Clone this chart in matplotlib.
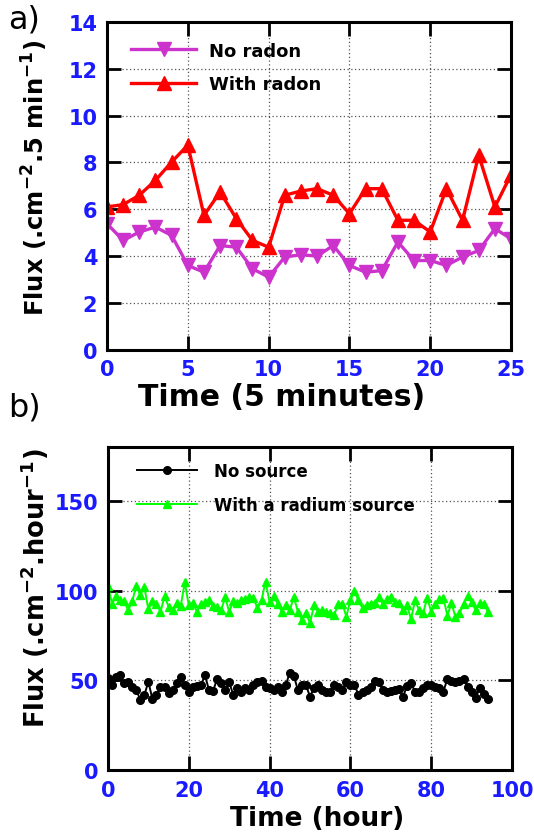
import matplotlib
matplotlib.use('Agg')
import matplotlib.pyplot as plt
import numpy as np

# panel a) flux every 5 minutes
time_a = list(range(26))
no_radon = [5.38, 4.67, 5.03, 5.24, 4.88, 3.6, 3.31, 4.45, 4.38, 3.46, 3.1, 3.96, 4.06,
            4.0, 4.45, 3.6, 3.31, 3.38, 4.6, 3.81, 3.81, 3.6, 3.96, 4.24, 5.17, 4.74]
with_radon = [6.1, 6.2, 6.6, 7.24, 8.02, 8.74, 5.74, 6.74, 5.6, 4.67, 4.38, 6.6, 6.78,
              6.88, 6.6, 5.81, 6.88, 6.88, 5.53, 5.53, 5.03, 6.88, 5.53, 8.31, 6.1, 7.48]

# panel b) hourly flux
time_b = list(range(95))
no_source = [51.3, 47.3, 51.9, 52.7, 48.2, 49.1, 46.4, 44.6, 39.1, 41.8,
             49.1, 39.6, 41.8, 46.4, 46.4, 42.7, 44.6, 48.2, 51.9, 47.3,
             43.7, 46.4, 47.0, 47.3, 52.7, 44.6, 44.0, 50.6, 48.2, 44.6,
             49.1, 41.8, 45.5, 43.5, 45.5, 44.6, 47.3, 49.0, 49.8, 46.4,
             45.8, 44.6, 46.4, 43.7, 47.3, 54.2, 52.4, 44.6, 47.3, 47.3,
             40.9, 45.8, 47.3, 44.6, 43.7, 43.7, 47.3, 46.4, 44.6, 49.1,
             47.3, 47.6, 41.8, 43.7, 44.6, 46.4, 49.5, 49.0, 44.6, 43.7,
             44.0, 44.6, 45.2, 40.4, 47.0, 48.2, 43.7, 43.4, 45.8, 47.3,
             47.6, 46.4, 45.8, 43.7, 50.6, 49.8, 49.1, 49.4, 50.6, 46.4,
             43.7, 40.0, 45.8, 42.2, 39.6]
radium = [102.7, 92.7, 96.7, 94.5, 94.0, 89.0, 94.0, 102.7, 97.3, 102.0,
          89.5, 94.0, 92.7, 88.2, 96.7, 91.0, 89.0, 93.3, 91.3, 104.5,
          91.8, 93.0, 88.2, 92.7, 93.5, 94.5, 91.3, 91.0, 89.0, 96.2,
          88.2, 94.0, 93.0, 94.5, 95.5, 96.4, 96.0, 90.0, 94.5, 105.0,
          93.6, 96.7, 92.7, 88.2, 91.8, 89.0, 96.4, 88.2, 83.6, 87.3,
          81.8, 91.8, 88.2, 89.0, 88.2, 87.3, 86.4, 92.7, 92.7, 85.5,
          94.5, 99.6, 94.5, 90.0, 91.8, 92.7, 93.3, 96.2, 92.7, 95.3,
          96.5, 93.6, 93.0, 89.0, 91.8, 84.0, 94.5, 89.0, 87.3, 96.0,
          88.2, 92.7, 95.3, 96.0, 86.0, 93.0, 85.3, 87.3, 92.7, 96.7,
          93.6, 89.0, 93.0, 92.7, 88.2]

plt.rcParams['font.family'] = ['DejaVu Sans']
plt.rcParams['mathtext.fontset'] = 'dejavusans'

fig = plt.figure(figsize=(5.34, 8.37), dpi=100)
ax1 = fig.add_axes([0.2004, 0.581, 0.7566, 0.3915])
ax2 = fig.add_axes([0.2022, 0.0789, 0.7566, 0.3859])


def style_axes(ax):
    for s in ax.spines.values():
        s.set_linewidth(2.2)
    ax.tick_params(direction='in', length=10, width=2, top=True, right=True,
                   labelsize=15, labelcolor='#1a1aff', pad=7)
    for lab in ax.get_xticklabels() + ax.get_yticklabels():
        lab.set_fontweight('bold')
    ax.grid(True, linestyle=(0, (1, 2)), color='#555555', linewidth=0.9)


ax1.plot(time_a, no_radon, color='#cc33cc', marker='v', markersize=10, linewidth=2.4,
         label='No radon')
ax1.plot(time_a, with_radon, color='#ff0000', marker='^', markersize=10, linewidth=2.4,
         label='With radon')
ax1.set_xlim(0, 25)
ax1.set_ylim(0, 14)
ax1.set_xticks(range(0, 26, 5))
ax1.set_yticks(range(0, 15, 2))
style_axes(ax1)
ax1.set_xlabel('Time (5 minutes)', fontsize=21.5, fontweight='bold')
ax1.xaxis.set_label_coords(0.433, -0.1)
ax1.set_ylabel(r'Flux (.cm$^{\mathbf{-2}}$.5 min$^{\mathbf{-1}}$)', fontsize=17.5,
               fontweight='bold')
ax1.yaxis.set_label_coords(-0.142, 0.527)
ax1.legend(loc='upper left', frameon=False, prop={'weight': 'bold', 'size': 13},
           handlelength=3.6, borderaxespad=0.5, labelspacing=0.85, handletextpad=0.7,
           bbox_to_anchor=(0.02, 0.99))

ax2.plot(time_b, no_source, color='black', marker='o', markersize=5.5, linewidth=1.4,
         label='No source')
ax2.plot(time_b, radium, color='#00ff00', marker='^', markersize=5.5, linewidth=1.4,
         label='With a radium source')
ax2.set_xlim(0, 100)
ax2.set_ylim(0, 180)
ax2.set_xticks(range(0, 101, 20))
ax2.set_yticks([0, 50, 100, 150])
style_axes(ax2)
ax2.set_xlabel('Time (hour)', fontsize=19, fontweight='bold')
ax2.xaxis.set_label_coords(0.517, -0.108)
ax2.set_ylabel(r'Flux (.cm$^{\mathbf{-2}}$.hour$^{\mathbf{-1}}$)', fontsize=18.5,
               fontweight='bold')
ax2.yaxis.set_label_coords(-0.142, 0.567)
ax2.legend(loc='upper left', frameon=False, prop={'weight': 'bold', 'size': 12},
           handlelength=3.6, borderaxespad=0.7, labelspacing=0.95, handletextpad=1.0,
           bbox_to_anchor=(0.027, 1.01))

fig.text(0.015, 0.976, 'a)', fontsize=23, family='DejaVu Sans', va='center')
fig.text(0.015, 0.513, 'b)', fontsize=23, family='DejaVu Sans', va='center')

fig.savefig('out.png', dpi=100)
